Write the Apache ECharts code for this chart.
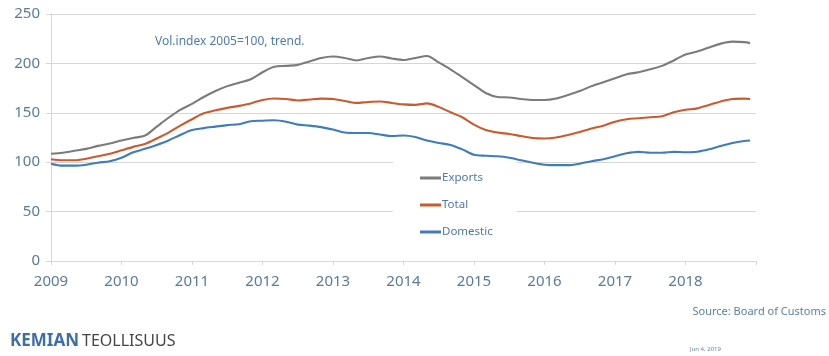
<!DOCTYPE html>
<html>
<head>
<meta charset="utf-8">
<script src="https://cdn.jsdelivr.net/npm/echarts@6/dist/echarts.min.js"></script>
<style>
  html, body { margin: 0; padding: 0; background: #fff; }
  #chart { width: 829px; height: 356px; }
</style>
</head>
<body>
<div id="chart"></div>
<script>
// Bi-monthly observation months (Jan, Mar, May, Jul, Sep, Nov) plus Dec 2018
const periods = [
  '2009-01','2009-03','2009-05','2009-07','2009-09','2009-11',
  '2010-01','2010-03','2010-05','2010-07','2010-09','2010-11',
  '2011-01','2011-03','2011-05','2011-07','2011-09','2011-11',
  '2012-01','2012-03','2012-05','2012-07','2012-09','2012-11',
  '2013-01','2013-03','2013-05','2013-07','2013-09','2013-11',
  '2014-01','2014-03','2014-05','2014-07','2014-09','2014-11',
  '2015-01','2015-03','2015-05','2015-07','2015-09','2015-11',
  '2016-01','2016-03','2016-05','2016-07','2016-09','2016-11',
  '2017-01','2017-03','2017-05','2017-07','2017-09','2017-11',
  '2018-01','2018-03','2018-05','2018-07','2018-09','2018-11','2018-12'
];

// Volume index, 2005 = 100, trend
const exportsIdx = [
  108.5, 109.5, 111.5, 113.5, 116.5, 119,
  122, 124.5, 127, 136, 145, 153,
  159, 166, 172, 177, 180.5, 184,
  191, 196.5, 197.5, 198.5, 202, 205.5,
  207, 205.5, 203, 205.5, 207, 205,
  203.5, 205.5, 207.5, 201, 194, 186,
  178, 170, 166, 165.5, 164, 163,
  163, 164.5, 168, 172, 177, 181,
  185, 189, 191, 194, 197.5, 203,
  209, 212, 216, 220, 222, 221.5, 220.5
];
const totalIdx = [
  103, 102, 102, 103.5, 106, 108.5,
  112, 115.5, 118.5, 124, 130, 137,
  143.5, 149.5, 152.5, 155, 157, 159.5,
  163, 164.5, 164, 162.5, 163.5, 164.3,
  164, 162, 160, 161, 161.5, 160,
  158.5, 158, 159.5, 156, 150.5, 145.5,
  138, 132.5, 130, 128.5, 126.5, 124.5,
  124, 125, 127.5, 130.5, 134, 137,
  141, 143.5, 144.5, 145.5, 146.5, 150.5,
  153, 154.5, 158, 161.5, 164, 164.3, 164
];
const domesticIdx = [
  98.5, 96.5, 96.5, 97.5, 99.5, 101,
  104.5, 110, 113.5, 117.5, 122, 127.5,
  132.5, 134.5, 136, 137.5, 138.5, 141.5,
  142, 142.5, 141, 138, 137, 135.5,
  133, 130, 129.5, 129.5, 128, 126.5,
  127, 125.5, 122, 119.5, 117.5, 113,
  107.5, 106.5, 106, 104.5, 102, 99.5,
  97.5, 97, 97, 98.5, 101, 103,
  106, 109, 110.5, 109.5, 109.5, 110.5,
  110, 110.5, 113, 116.5, 119.5, 121.5, 122
];

const seriesNames = ['Exports', 'Total', 'Domestic'];
const yearTicks = [2009, 2010, 2011, 2012, 2013, 2014, 2015, 2016, 2017, 2018];

// Position each month on a continuous year scale (Jan = start of year)
const yearPos = periods.map(p => {
  const [y, m] = p.split('-').map(Number);
  return y + (m - 1) / 12;
});
const pairs = vals => vals.map((v, i) => [yearPos[i], v]);

const labelColor = '#5b7a9c';
const gridColor = '#d6d6d6';
const font = 'Noto Sans';

const chart = echarts.init(document.getElementById('chart'), null, { renderer: 'canvas' });

chart.setOption({
  backgroundColor: '#ffffff',
  animation: false,
  textStyle: { fontFamily: font },
  grid: { left: 51, right: 73, top: 14, bottom: 95, containLabel: false },
  xAxis: {
    type: 'value',
    min: 2009,
    max: 2019,
    interval: 1,
    axisLine: { show: true, lineStyle: { color: gridColor, width: 1 } },
    axisTick: { show: true, length: 4, lineStyle: { color: gridColor } },
    splitLine: { show: false },
    axisLabel: {
      color: labelColor,
      fontSize: 15,
      fontFamily: font,
      margin: 13,
      formatter: v => (yearTicks.includes(v) ? String(v) : '')
    }
  },
  yAxis: {
    type: 'value',
    min: 0,
    max: 250,
    interval: 50,
    axisLine: { show: true, lineStyle: { color: gridColor, width: 1 } },
    axisTick: { show: true, length: 5, lineStyle: { color: gridColor } },
    splitLine: { show: true, lineStyle: { color: gridColor, width: 1 } },
    axisLabel: { color: labelColor, fontSize: 15, fontFamily: font, margin: 11 }
  },
  legend: {
    data: seriesNames,
    orient: 'vertical',
    left: 393,
    top: 162,
    backgroundColor: '#ffffff',
    padding: [10, 24, 8, 27],
    itemWidth: 21,
    itemHeight: 3,
    itemGap: 15,
    icon: 'rect',
    textStyle: { color: '#4f78a3', fontSize: 11.5, fontFamily: font, padding: [0, 0, 0, -4] }
  },
  title: [
    {
      text: '{a|KEMIAN}{b|TEOLLISUUS}',
      left: 10,
      top: 333,
      padding: 0,
      textStyle: {
        rich: {
          a: { fontFamily: font, fontSize: 17, fontWeight: 'bold', color: '#3d6ea8' },
          b: { fontFamily: font, fontSize: 16, fontWeight: 'normal', color: '#454545', padding: [0, 0, 0, 3] }
        }
      }
    }
  ],
  graphic: [
    {
      type: 'text',
      left: 155,
      top: 36,
      style: { text: 'Vol.index 2005=100, trend.', fill: '#4f7bab', font: '12px "Noto Sans"' }
    },
    {
      type: 'text',
      right: 3,
      top: 306,
      style: { text: 'Source: Board of Customs', fill: '#5a80a6', font: '11px "Noto Sans"' }
    },
    {
      type: 'text',
      left: 690,
      top: 346,
      style: { text: 'Jun 4, 2019', fill: '#6a7f99', font: '6px "Noto Sans"' }
    }
  ],
  series: [
    {
      name: 'Exports', type: 'line', data: pairs(exportsIdx),
      smooth: 0.3, showSymbol: false, symbol: 'none',
      lineStyle: { color: '#7b7b7b', width: 2.1 }, itemStyle: { color: '#7b7b7b' }, z: 3
    },
    {
      name: 'Total', type: 'line', data: pairs(totalIdx),
      smooth: 0.3, showSymbol: false, symbol: 'none',
      lineStyle: { color: '#cb5a2e', width: 2.1 }, itemStyle: { color: '#cb5a2e' }, z: 3
    },
    {
      name: 'Domestic', type: 'line', data: pairs(domesticIdx),
      smooth: 0.3, showSymbol: false, symbol: 'none',
      lineStyle: { color: '#3f7cba', width: 2.1 }, itemStyle: { color: '#3f7cba' }, z: 3
    }
  ]
});
</script>
</body>
</html>
